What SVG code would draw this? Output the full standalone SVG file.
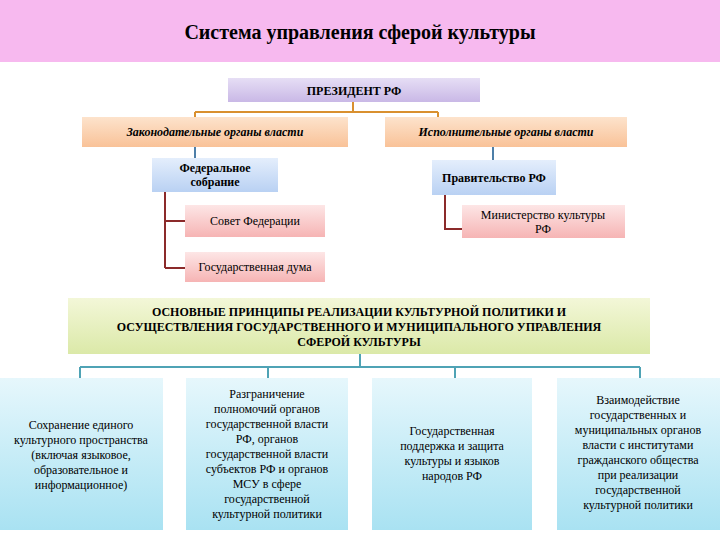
<svg xmlns="http://www.w3.org/2000/svg" width="720" height="540" viewBox="0 0 720 540" font-family="'Liberation Serif', 'DejaVu Serif', serif">
<defs>
<linearGradient id="gP" x1="0" y1="0" x2="0" y2="1"><stop offset="0" stop-color="#e6def5"/><stop offset="1" stop-color="#c9b8e6"/></linearGradient>
<linearGradient id="gO" x1="0" y1="0" x2="0" y2="1"><stop offset="0" stop-color="#fde3cc"/><stop offset="1" stop-color="#f9c298"/></linearGradient>
<linearGradient id="gB" x1="0" y1="0" x2="0" y2="1"><stop offset="0" stop-color="#e4eefc"/><stop offset="1" stop-color="#b9d1f3"/></linearGradient>
<linearGradient id="gR" x1="0" y1="0" x2="0" y2="1"><stop offset="0" stop-color="#fde6e6"/><stop offset="1" stop-color="#f6b4b4"/></linearGradient>
<linearGradient id="gG" x1="0" y1="0" x2="0" y2="1"><stop offset="0" stop-color="#f3f7d8"/><stop offset="1" stop-color="#dbe9a8"/></linearGradient>
<linearGradient id="gC" x1="0" y1="0" x2="0" y2="1"><stop offset="0" stop-color="#e6f7fc"/><stop offset="1" stop-color="#a9e2f2"/></linearGradient>
</defs>
<style>
text{fill:#000;text-anchor:middle}
.s{font-size:12px}.b{font-weight:bold}.i{font-style:italic}
.c1{stroke:#d9902f;stroke-width:2;fill:none}
.c2{stroke:#4e7fa8;stroke-width:2;fill:none}
.c3{stroke:#8b2a2a;stroke-width:2;fill:none}
.c4{stroke:#4fa3b5;stroke-width:2;fill:none}
</style>
<rect x="0" y="0" width="720" height="62" fill="#f7b9ef"/>
<text x="360" y="39" font-size="20" class="b">Система управления сферой культуры</text>
<g id="connectors">
<path class="c1" d="M353 102V112M195 112H438M195 112V117M438 112V117"/>
<path class="c2" d="M195 147V158M493 147V160"/>
<path class="c3" d="M165 192V268M165 221H185M165 268H185M445 195V229H462"/>
<path class="c4" d="M360 354V367M80 367H640M80 367V378M268 367V378M455 367V378M640 367V378"/>
</g>
<g id="president"><rect x="228" y="78" width="252" height="24" fill="url(#gP)"/><text x="354" y="95" class="s b">ПРЕЗИДЕНТ РФ</text></g>
<g id="zak"><rect x="82" y="117" width="266" height="30" fill="url(#gO)"/><text x="215" y="136" class="s b i">Законодательные органы власти</text></g>
<g id="isp"><rect x="385" y="117" width="242" height="30" fill="url(#gO)"/><text x="506" y="136" class="s b i">Исполнительные органы власти</text></g>
<g id="fed"><rect x="152" y="158" width="126" height="34" fill="url(#gB)"/><text x="215" y="172" class="s b">Федеральное</text><text x="215" y="186" class="s b">собрание</text></g>
<g id="prav"><rect x="432" y="160" width="124" height="35" fill="url(#gB)"/><text x="494" y="182" class="s b">Правительство РФ</text></g>
<g id="sovet"><rect x="185" y="205" width="140" height="32" fill="url(#gR)"/><text x="255" y="225" class="s">Совет Федерации</text></g>
<g id="duma"><rect x="185" y="252" width="140" height="30" fill="url(#gR)"/><text x="255" y="271" class="s">Государственная дума</text></g>
<g id="min"><rect x="462" y="205" width="163" height="33" fill="url(#gR)"/><text x="543" y="219" class="s">Министерство культуры</text><text x="543" y="233" class="s">РФ</text></g>
<g id="principles"><rect x="68" y="298" width="582" height="56" fill="url(#gG)"/>
<text x="359" y="316" class="s b">ОСНОВНЫЕ ПРИНЦИПЫ РЕАЛИЗАЦИИ КУЛЬТУРНОЙ ПОЛИТИКИ И</text>
<text x="359" y="331" class="s b">ОСУЩЕСТВЛЕНИЯ ГОСУДАРСТВЕННОГО И МУНИЦИПАЛЬНОГО УПРАВЛЕНИЯ</text>
<text x="359" y="346" class="s b">СФЕРОЙ КУЛЬТУРЫ</text></g>
<g id="p1"><rect x="0" y="378" width="163" height="152" fill="url(#gC)"/>
<text class="s" x="81"><tspan x="81" y="429">Сохранение единого</tspan><tspan x="81" y="444">культурного пространства</tspan><tspan x="81" y="459">(включая языковое,</tspan><tspan x="81" y="474">образовательное и</tspan><tspan x="81" y="489">информационное)</tspan></text></g>
<g id="p2"><rect x="186" y="378" width="162" height="152" fill="url(#gC)"/>
<text class="s" x="267"><tspan x="267" y="398">Разграничение</tspan><tspan x="267" y="413">полномочий органов</tspan><tspan x="267" y="428">государственной власти</tspan><tspan x="267" y="443">РФ, органов</tspan><tspan x="267" y="458">государственной власти</tspan><tspan x="267" y="473">субъектов РФ и органов</tspan><tspan x="267" y="488">МСУ в сфере</tspan><tspan x="267" y="503">государственной</tspan><tspan x="267" y="518">культурной политики</tspan></text></g>
<g id="p3"><rect x="372" y="378" width="160" height="152" fill="url(#gC)"/>
<text class="s" x="452"><tspan x="452" y="435">Государственная</tspan><tspan x="452" y="450">поддержка и защита</tspan><tspan x="452" y="465">культуры и языков</tspan><tspan x="452" y="480">народов РФ</tspan></text></g>
<g id="p4"><rect x="557" y="378" width="163" height="152" fill="url(#gC)"/>
<text class="s" x="638"><tspan x="638" y="404">Взаимодействие</tspan><tspan x="638" y="419">государственных и</tspan><tspan x="638" y="434">муниципальных органов</tspan><tspan x="638" y="449">власти с институтами</tspan><tspan x="638" y="464">гражданского общества</tspan><tspan x="638" y="479">при реализации</tspan><tspan x="638" y="494">государственной</tspan><tspan x="638" y="509">культурной политики</tspan></text></g>
</svg>
